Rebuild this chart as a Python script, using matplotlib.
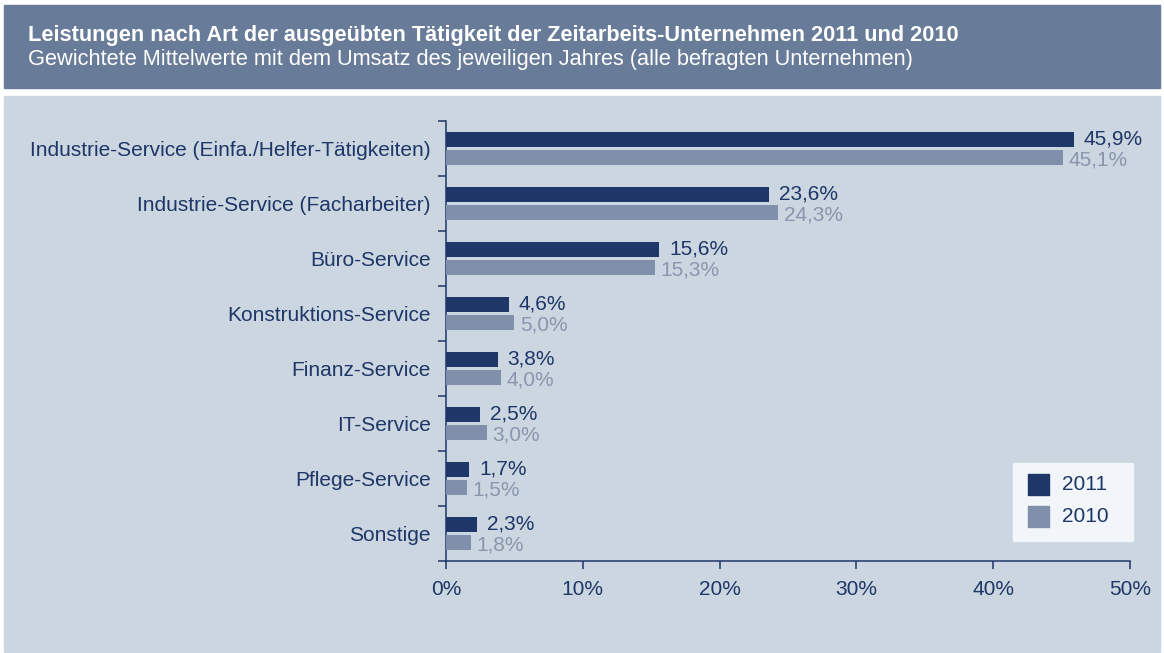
import numpy as np
import matplotlib.pyplot as plt
from matplotlib.patches import Rectangle

plt.rcParams['font.family'] = ['Liberation Sans', 'DejaVu Sans']

categories = ['Industrie-Service (Einfa./Helfer-Tätigkeiten)',
              'Industrie-Service (Facharbeiter)',
              'Büro-Service',
              'Konstruktions-Service',
              'Finanz-Service',
              'IT-Service',
              'Pflege-Service',
              'Sonstige']
v2011 = [45.9, 23.6, 15.6, 4.6, 3.8, 2.5, 1.7, 2.3]
v2010 = [45.1, 24.3, 15.3, 5.0, 4.0, 3.0, 1.5, 1.8]
years = ['2011', '2010']
xticks = [0, 10, 20, 30, 40, 50]

navy = '#1e3668'
grey = '#8190aa'
grey_txt = '#8a96ae'
panel = '#cbd6e0'
header = '#687c9a'
fs_head = 15.7
fs = 15

W, H = 1164, 653
fig = plt.figure(figsize=(W / 100, H / 100), dpi=100)
fig.patch.set_facecolor('white')


def px(x, y, w=0, h=0):
    # pixel box (top-left origin) -> figure fraction
    return x / W, 1 - (y + h) / H, w / W, h / H


# header band and chart panel
x0, y0, w0, h0 = px(4, 5, 1156, 83)
fig.patches.append(Rectangle((x0, y0), w0, h0, transform=fig.transFigure,
                             color=header, zorder=-10))
x0, y0, w0, h0 = px(4, 96, 1156, 556)
fig.patches.append(Rectangle((x0, y0), w0, h0, transform=fig.transFigure,
                             color=panel, zorder=-10))

fig.text(28 / W, 1 - 36 / H,
         'Leistungen nach Art der ausgeübten Tätigkeit der Zeitarbeits-Unternehmen 2011 und 2010',
         color='white', fontsize=fs_head, fontweight='bold', va='center')
fig.text(28 / W, 1 - 60 / H,
         'Gewichtete Mittelwerte mit dem Umsatz des jeweiligen Jahres (alle befragten Unternehmen)',
         color='white', fontsize=fs_head, va='center')

ax = fig.add_axes([446 / W, 1 - 561 / H, 684 / W, 440 / H])
ax.set_facecolor('none')

y = np.arange(len(categories))
h = 0.29
off = 0.164
ax.barh(y - off, v2011, height=h, color=navy, zorder=3)
ax.barh(y + off, v2010, height=h, color=grey, zorder=3)

for yi, v in zip(y, v2011):
    ax.annotate(f'{v:.1f}%'.replace('.', ','), (v, yi - off), xytext=(7, 0.5),
                textcoords='offset points', va='center', ha='left',
                color=navy, fontsize=fs)
for yi, v in zip(y, v2010):
    ax.annotate(f'{v:.1f}%'.replace('.', ','), (v, yi + off), xytext=(4, -1.5),
                textcoords='offset points', va='center', ha='left',
                color=grey_txt, fontsize=fs)

ax.set_xlim(0, 50)
ax.set_ylim(len(categories) - 0.5, -0.5)
ax.set_xticks(xticks)
ax.set_xticklabels([f'{t}%' for t in xticks])
ax.set_yticks(np.arange(len(categories) + 1) - 0.5)
ax.set_yticklabels([])
ax.set_yticks(y, minor=True)
ax.set_yticklabels(categories, minor=True, va='center_baseline')
ax.tick_params(axis='y', which='major', length=6, width=1.1, color=navy)
ax.tick_params(axis='y', which='minor', length=0, pad=11, labelsize=fs, labelcolor=navy)
ax.tick_params(axis='x', length=6, width=1.1, color=navy, labelsize=fs,
               labelcolor=navy, pad=8)

for s in ['top', 'right']:
    ax.spines[s].set_visible(False)
for s in ['left', 'bottom']:
    ax.spines[s].set_color(navy)
    ax.spines[s].set_linewidth(1.1)

# legend box
x0, y0, w0, h0 = px(1013, 463, 120, 78)
fig.patches.append(Rectangle((x0, y0), w0, h0, transform=fig.transFigure,
                             color='#f2f5f9', zorder=5))
for i, (lab, col) in enumerate(zip(years, [navy, grey])):
    x0, y0, w0, h0 = px(1028, 474 + 32 * i, 21, 21)
    fig.patches.append(Rectangle((x0, y0), w0, h0, transform=fig.transFigure,
                                 color=col, zorder=6))
    fig.text(1062 / W, 1 - (485 + 32 * i) / H, lab, color=navy, fontsize=fs,
             va='center', ha='left', zorder=7)

fig.savefig('out.png', dpi=100, facecolor=fig.get_facecolor())
